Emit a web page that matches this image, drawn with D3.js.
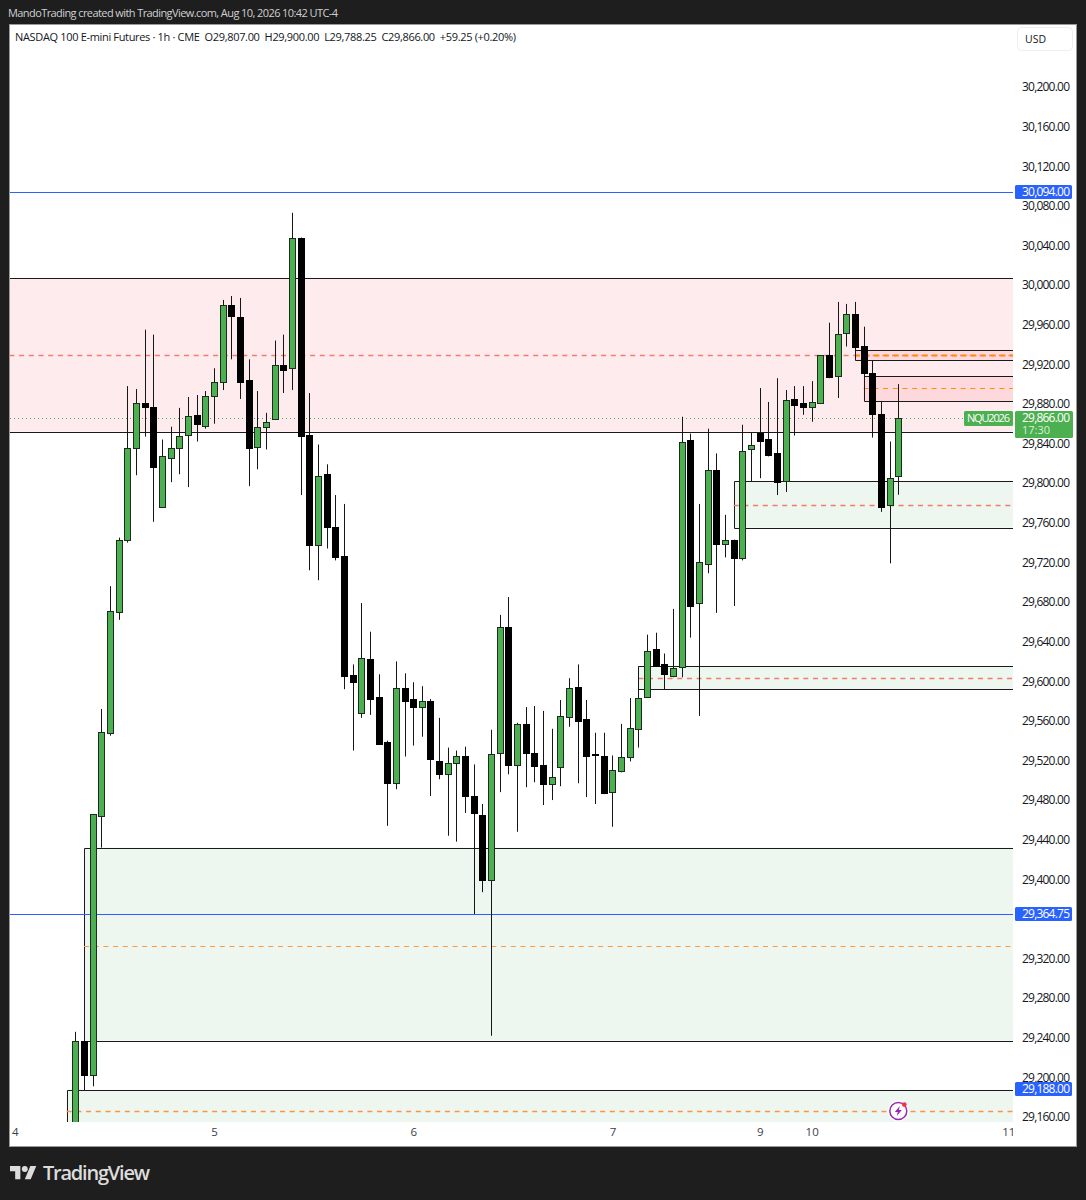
<!DOCTYPE html>
<html><head><meta charset="utf-8">
<script src="https://cdn.jsdelivr.net/npm/d3@7/dist/d3.min.js"></script>
<style>html,body{margin:0;padding:0;background:#1e1e1e}svg{display:block}text{font-family:"Open Sans",sans-serif;white-space:pre}</style>
</head><body><svg id="c" width="1086" height="1200"></svg>
<script>
const opens=[29132,29237,29202,29464,29548,29670,29743,29835,29881,29877,29776,29825,29836,29849,29869,29858,29888,29902,29980,29968,29904,29837,29857,29865,29919,29916,30048,29849,29738,29809,29756,29726,29606,29568,29622,29584,29539,29497,29593,29582,29574,29580,29519,29506,29517,29525,29484,29465,29399,29528,29655,29515,29557,29528,29515,29496,29513,29564,29594,29562,29527,29525,29488,29509,29523,29552,29584,29633,29617,29605,29614,29844,29679,29718,29813,29739,29743,29724,29834,29851,29845,29830,29802,29885,29881,29877,29881,29929,29908,29952,29971,29938,29911,29870,29778,29807];
const highs=[29246,29237,29466,29572,29696,29745,29898,29895,29955,29950,29844,29857,29876,29887,29889,29893,29916,29985,29989,29987,29925,29893,29871,29944,29950,30073,30048,29891,29839,29819,29788,29779,29617,29679,29650,29607,29540,29620,29608,29599,29595,29582,29563,29533,29530,29534,29516,29476,29551,29667,29685,29558,29574,29575,29570,29552,29581,29603,29617,29581,29548,29548,29525,29557,29583,29615,29647,29649,29628,29673,29867,29850,29779,29855,29830,29768,29743,29859,29851,29896,29882,29906,29894,29898,29898,29903,29929,29962,29983,29981,29983,29958,29924,29883,29842,29900];
const lows=[29117,29187,29191,29432,29545,29662,29740,29808,29847,29761,29776,29801,29809,29796,29842,29855,29860,29894,29925,29885,29797,29814,29834,29865,29891,29894,29788,29712,29702,29734,29722,29592,29530,29563,29566,29536,29454,29491,29524,29535,29544,29484,29501,29444,29438,29467,29365,29387,29242,29488,29506,29448,29493,29498,29475,29480,29494,29554,29497,29483,29476,29486,29453,29508,29519,29533,29584,29615,29592,29604,29604,29644,29565,29709,29669,29725,29676,29722,29802,29805,29827,29788,29791,29848,29869,29862,29881,29906,29886,29938,29926,29884,29846,29771,29719,29788.25];
const closes=[29237,29202,29466,29549,29671,29743,29835,29881,29877,29816,29827,29835,29848,29868,29860,29888,29902,29980,29969,29902,29836,29857,29862,29919,29914,30048,29848,29738,29807,29756,29725,29605,29599,29623,29582,29537,29497,29593,29580,29574,29580,29521,29506,29517,29525,29484,29467,29399,29527,29655,29515,29557,29528,29514,29496,29503,29565,29593,29560,29525,29526,29487,29510,29523,29553,29583,29631,29615,29607,29613,29842,29676,29720,29813,29739,29743,29724,29832,29839,29843,29828,29801,29884,29879,29877,29882,29929,29907,29951,29971,29937,29911,29870,29776,29805,29866];

const priceTicks=[30200,30160,30120,30080,30040,30000,29960,29920,29880,29840,29800,29760,29720,29680,29640,29600,29560,29520,29480,29440,29400,29320,29280,29240,29200,29160];
const timeLabels=["4","5","6","7","9","10","11"];
const timeIndex=[-7,16,39,62,79,85,107.7];

// zones: top, bottom, mid, start index
const zoneTops=[30007,29432,29187.5,29802,29615,29934,29908];
const zoneBottoms=[29852,29237,29100,29755,29592,29924,29883];
const zoneMids=[29929,29333,29166,29778,29603,29929,29896];
const zoneStarts=[-30,1,-1,76,65,90,91];
const zoneKinds=["red","green","green","green","green","red","red"];
const midColors=["#f47c68","#ff9a3c","#fb9347","#f8786a","#f8786a","#ff9100","#ff9100"];
const midWidths=[1.4,1.2,1.4,1.4,1.4,2,1.2];
const blueLevels=[30094,29364.75];
const blueLabels=["30,094.00","29,364.75","29,188.00"];
const blueLabelValues=[30094,29364.75,29188];
const lastPrice=29866;

const L=10,R=1013,T=25,B=1122;
const svg=d3.select("#c");
const y=d3.scaleLinear().domain([30200,29160]).range([87,1117]);
const x=d3.scaleLinear().domain([0,95]).range([75.3,898.3]);
const F=d3.format(",.2f");

svg.append("rect").attr("width",1086).attr("height",1200).attr("fill","#1e1e1e");
svg.append("text").attr("x",8).attr("y",17).attr("font-size",11).attr("fill","#d0d0d0").attr("textLength",330).text("MandoTrading created with TradingView.com, Aug 10, 2026 10:42 UTC-4");
svg.append("rect").attr("x",9.5).attr("y",24.5).attr("width",1067).attr("height",1122).attr("fill","#fff").attr("stroke","#9a9a9a");

const defs=svg.append("defs");
defs.append("clipPath").attr("id","plot").append("rect").attr("x",L).attr("y",T).attr("width",R-L).attr("height",B-T);
defs.append("clipPath").attr("id","tm").append("rect").attr("x",L).attr("y",B).attr("width",R-L).attr("height",24);
const g=svg.append("g").attr("clip-path","url(#plot)");

// zones
const zones=d3.range(zoneTops.length);
const fillOf=k=>k==="red"?"rgba(247,82,95,0.115)":"rgba(76,175,100,0.1)";
g.selectAll("rect.z").data(zones).join("rect").attr("class","z")
 .attr("x",i=>x(zoneStarts[i])).attr("width",i=>R-x(zoneStarts[i]))
 .attr("y",i=>y(zoneTops[i])).attr("height",i=>y(zoneBottoms[i])-y(zoneTops[i]))
 .attr("fill",i=>fillOf(zoneKinds[i])).attr("stroke","none");
g.selectAll("path.zb").data(zones).join("path").attr("class","zb")
 .attr("d",i=>{const a=Math.round(x(zoneStarts[i]))+.5,t=Math.round(y(zoneTops[i]))+.5,b=Math.round(y(zoneBottoms[i]))+.5;return `M${R},${t}H${a}V${b}H${R}`;})
 .attr("fill","none").attr("stroke","#1a1a1a").attr("stroke-width",1);
g.selectAll("line.zm").data(zones).join("line").attr("class","zm")
 .attr("x1",i=>x(zoneStarts[i])).attr("x2",R)
 .attr("y1",i=>Math.round(y(zoneMids[i]))+.5).attr("y2",i=>Math.round(y(zoneMids[i]))+.5)
 .attr("stroke",i=>midColors[i]).attr("stroke-width",i=>midWidths[i]).attr("stroke-dasharray","5 4.7");
// blue levels
g.selectAll("line.bl").data(blueLevels).join("line").attr("class","bl")
 .attr("x1",L).attr("x2",R).attr("y1",d=>Math.round(y(d))+.5).attr("y2",d=>Math.round(y(d))+.5)
 .attr("stroke","#2962ff").attr("stroke-width",1);
// last price dotted
g.append("line").attr("x1",L).attr("x2",R).attr("y1",Math.round(y(lastPrice))+.5).attr("y2",Math.round(y(lastPrice))+.5)
 .attr("stroke","#4caf50").attr("stroke-width",1).attr("stroke-dasharray","1 3");

// candles
const idx=d3.range(opens.length);
const px=i=>Math.round(x(i));
g.selectAll("line.w").data(idx).join("line").attr("class","w")
 .attr("x1",i=>px(i)+.5).attr("x2",i=>px(i)+.5).attr("y1",i=>y(highs[i])).attr("y2",i=>y(lows[i]))
 .attr("stroke","#161616").attr("stroke-width",1);
g.selectAll("rect.b").data(idx).join("rect").attr("class","b")
 .attr("x",i=>px(i)-2.5).attr("width",6)
 .attr("y",i=>Math.round(y(Math.max(opens[i],closes[i])))+.5)
 .attr("height",i=>Math.max(1,Math.round(y(Math.min(opens[i],closes[i])))-Math.round(y(Math.max(opens[i],closes[i])))))
 .attr("fill",i=>closes[i]>=opens[i]?"#4caf50":"#000")
 .attr("stroke",i=>closes[i]>=opens[i]?"#1f2a22":"#000").attr("stroke-width",1);

// price axis
const ay=d3.axisRight(y).tickValues(priceTicks).tickFormat(F).tickSize(0).tickPadding(0);
const gy=svg.append("g").attr("transform","translate(1022,0)").call(ay);
gy.select(".domain").remove();
gy.selectAll("text").attr("font-size",12).attr("font-weight",500).attr("fill","#131722").attr("textLength",48);

// time axis
const ax=d3.axisBottom(x).tickValues(timeIndex).tickFormat((d,i)=>timeLabels[i]).tickSize(0).tickPadding(0);
const gx=svg.append("g").attr("clip-path","url(#tm)").append("g").attr("transform","translate(0,1128)").call(ax);
gx.select(".domain").remove();
gx.selectAll("text").attr("font-size",11.5).attr("fill","#3a3e48").attr("font-weight",500);

// legend line
svg.append("text").attr("x",15).attr("y",41).attr("font-size",11).attr("fill","#131722").attr("textLength",501)
 .text("NASDAQ 100 E-mini Futures · 1h · CME  O29,807.00  H29,900.00  L29,788.25  C29,866.00  +59.25 (+0.20%)");

// USD button
svg.append("rect").attr("x",1017.5).attr("y",27.5).attr("width",55).attr("height",23).attr("rx",4).attr("fill","#fff").attr("stroke","#eceef2");
svg.append("text").attr("x",1025).attr("y",43).attr("font-size",10.5).attr("fill","#131722").text("USD");

// blue price labels
const lab=svg.append("g").selectAll("g").data(blueLabels).join("g");
lab.append("rect").attr("x",1015).attr("width",57).attr("height",14)
 .attr("y",(d,i)=>Math.round(y(blueLabelValues[i]))-7).attr("rx",1.5).attr("fill","#2962ff");
lab.append("text").attr("x",1022).attr("y",(d,i)=>y(blueLabelValues[i])+4).attr("font-size",12).attr("font-weight",500).attr("fill","#fff").attr("textLength",48).text(d=>d);

// last price label
svg.append("rect").attr("x",1015).attr("y",411).attr("width",58).attr("height",27).attr("rx",1.5).attr("fill","#4caf50");
svg.append("text").attr("x",1022).attr("y",y(lastPrice)+4).attr("font-size",12).attr("font-weight",500).attr("fill","#fff").attr("textLength",48).text(F(lastPrice));
svg.append("text").attr("x",1022).attr("y",434).attr("font-size",11).attr("fill","#d6efd8").text("17:30");
svg.append("rect").attr("x",964).attr("y",411).attr("width",49).attr("height",15).attr("rx",1.5).attr("fill","#4caf50");
svg.append("text").attr("x",967).attr("y",422).attr("font-size",11).attr("font-weight",500).attr("fill","#fff").attr("textLength",43).text("NQU2026");

// event icon
const ic=svg.append("g").attr("transform",`translate(${x(95)},${y(29166)})`);
ic.append("circle").attr("r",10.5).attr("fill","#fff");
ic.append("circle").attr("r",8.5).attr("fill","#fff").attr("stroke","#9c27b0").attr("stroke-width",1.5);
ic.append("path").attr("d","M1.5,-5 L-3.5,1 H-0.5 L-1.5,5 L3.5,-1 H0.5 Z").attr("fill","#9c27b0");
ic.append("circle").attr("cx",6).attr("cy",-6.5).attr("r",2.4).attr("fill","#f23645");

// logo
const lg=svg.append("g").attr("transform","translate(10,1163) scale(0.74)").attr("fill","#dcdcdc");
lg.append("path").attr("d","M14 22H7V11H0V4h14v18zM28 22h-8l7.5-18h8L28 22z");
lg.append("circle").attr("cx",20).attr("cy",8).attr("r",4);
svg.append("text").attr("x",43).attr("y",1180).attr("font-size",20).attr("font-weight",600).attr("fill","#dcdcdc").attr("textLength",107).attr("font-family","Inter").text("TradingView");
</script></body></html>
